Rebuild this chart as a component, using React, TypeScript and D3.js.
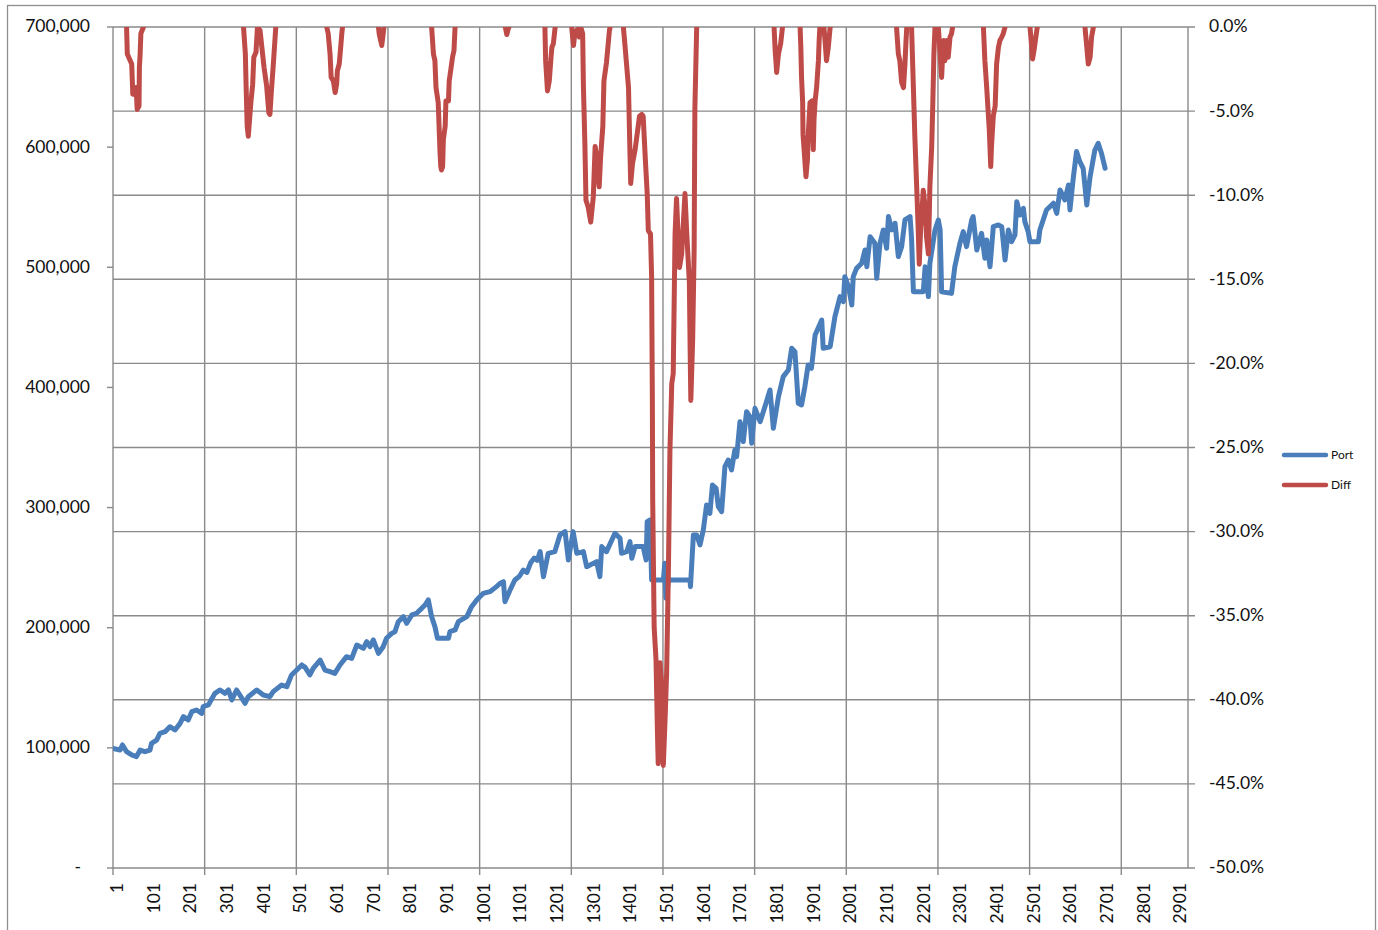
import React from 'react';
import * as d3 from 'd3';

// Port (left axis) — category index and portfolio value
const portIdx = [
  1, 20, 27, 38, 52, 65, 75, 88, 102, 106, 120, 129, 143, 156, 170, 184, 193, 206, 216, 229, 243, 247, 261, 279, 293,
  306, 316, 325, 338, 347, 361, 370, 393, 411, 429, 438, 461, 475, 488, 502, 516, 525, 538, 547, 566, 579, 593, 606,
  620, 638, 652, 666, 684, 693, 702, 711, 725, 738, 747, 761, 770, 779, 793, 802, 816, 829, 843, 852, 861, 870, 879,
  886, 916, 920, 934, 943, 966, 979, 993, 1011, 1029, 1047, 1057, 1066, 1070, 1084, 1097, 1110, 1120, 1130, 1140,
  1150, 1158, 1166, 1175, 1188, 1206, 1220, 1234, 1243, 1256, 1266, 1284, 1293, 1320, 1329, 1334, 1347, 1370, 1384,
  1388, 1402, 1411, 1416, 1425, 1447, 1455, 1458, 1466, 1470, 1502, 1506, 1509, 1516, 1575, 1576, 1584, 1593, 1602,
  1611, 1620, 1629, 1636, 1646, 1652, 1661, 1670, 1679, 1688, 1697, 1702, 1711, 1720, 1729, 1738, 1743, 1752, 1766,
  1779, 1793, 1802, 1816, 1829, 1843, 1852, 1861, 1870, 1879, 1888, 1897, 1906, 1916, 1934, 1938, 1957, 1970, 1984,
  1993, 1997, 2007, 2016, 2020, 2029, 2043, 2052, 2057, 2066, 2079, 2084, 2093, 2102, 2111, 2116, 2125, 2134, 2143,
  2152, 2161, 2175, 2179, 2184, 2211, 2216, 2225, 2229, 2243, 2252, 2257, 2261, 2288, 2297, 2311, 2320, 2329, 2343,
  2347, 2357, 2370, 2379, 2384, 2393, 2402, 2416, 2425, 2434, 2443, 2452, 2461, 2466, 2475, 2484, 2488, 2497, 2502,
  2525, 2529, 2547, 2566, 2575, 2584, 2597, 2607, 2611, 2620, 2629, 2638, 2647, 2657, 2661, 2666, 2679, 2688, 2697,
  2707,
];
const portVal = [
  99600, 98200, 102400, 96800, 94100, 92700, 98200, 96800, 98200, 103800, 106500, 112100, 113500, 117600, 114900,
  120400, 126000, 123200, 130100, 131500, 128700, 134300, 135700, 145400, 148200, 145400, 148200, 139800, 148200,
  144000, 137100, 142600, 148200, 144000, 142600, 146800, 152300, 150900, 160700, 164800, 169000, 167000, 160700,
  166200, 173100, 164800, 163400, 162000, 169000, 175900, 174500, 185600, 182800, 188400, 184200, 189800, 178700,
  184200, 191200, 195300, 196700, 205000, 209200, 203700, 210600, 212000, 216100, 218900, 223100, 209200, 200900,
  191200, 191200, 196700, 198100, 205000, 209200, 217500, 223100, 228600, 230000, 234200, 237000, 238300, 221700,
  231400, 239700, 243000, 248000, 246000, 254000, 258000, 256000, 263300, 242500, 261900, 263300, 277200, 280000,
  256400, 280000, 261900, 263300, 250800, 255000, 242500, 267500, 263300, 278600, 274400, 261900, 263300, 271600,
  257800, 267500, 267500, 256400, 288300, 289700, 239700, 239700, 253600, 224500, 239700, 239700, 234200, 277200,
  277200, 268900, 281300, 302200, 295200, 318800, 316000, 300800, 296600, 334100, 339600, 331300, 347900, 342400,
  371500, 354900, 379800, 375700, 353500, 382600, 371500, 384000, 397900, 366000, 392300, 409000, 414500, 432600,
  429800, 386800, 385400, 400600, 418700, 415900, 443700, 456100, 432600, 433900, 458900, 475600, 471400, 492200,
  483900, 468600, 492200, 499100, 503300, 514400, 500500, 525500, 520000, 490800, 520000, 531100, 515800, 542200,
  531100, 536600, 508900, 517200, 539400, 542200, 524100, 479700, 479700, 500500, 475600, 503300, 531100, 539400,
  531100, 479700, 478300, 500500, 520000, 529700, 517200, 539400, 542200, 514400, 528300, 507500, 522700, 500500,
  533800, 535200, 533800, 506100, 531100, 521300, 526900, 554600, 543500, 549100, 538000, 529700, 521300, 521300,
  531100, 547700, 553300, 544900, 564400, 556000, 568500, 547700, 574100, 596300, 587900, 582400, 551900, 563000,
  575500, 597600, 603200, 594900, 582400,
];

// Diff (right axis) — category index and drawdown in percent
const diffIdx = [
  38, 40, 52, 54, 55, 61, 64, 67, 72, 73, 75, 77, 84,
  357, 362, 364, 367, 370, 377, 382, 385, 391, 395, 402, 407, 413, 420, 426, 429, 433, 438, 442, 445,
  584, 588, 593, 596, 602, 607, 611, 613, 618, 622, 625, 627,
  725, 727, 734, 738, 740,
  870, 875, 879, 882, 888, 893, 895, 897, 900, 902, 907, 909, 916, 918, 922, 927, 931, 934,
  1071, 1075, 1079, 1081,
  1179, 1181, 1186, 1191, 1195, 1198, 1202, 1207,
  1252, 1257, 1261, 1270, 1273, 1278, 1282, 1284, 1288, 1291, 1297, 1304, 1311, 1316, 1320, 1327, 1331, 1337, 1340,
  1347, 1355, 1357,
  1393, 1397, 1407, 1411, 1413, 1418, 1425, 1431, 1437, 1443, 1447, 1453, 1458, 1461, 1467, 1470, 1472, 1473, 1477,
  1482, 1486, 1488, 1493, 1497, 1502, 1507, 1511, 1516, 1520, 1525, 1529, 1534, 1538, 1546, 1552, 1561, 1566, 1573,
  1575, 1577, 1582, 1586, 1588, 1593,
  1804, 1807, 1809, 1811, 1816, 1818, 1822, 1825, 1827,
  1875, 1877, 1879, 1882, 1883, 1886, 1891, 1895, 1897, 1902, 1907, 1911, 1913, 1916, 1920, 1925, 1927, 1929,
  1940, 1943, 1947, 1952, 1957,
  2138, 2143, 2147, 2152, 2157, 2161, 2164, 2166,
  2179, 2184, 2188, 2193, 2197, 2200, 2204, 2207, 2211, 2216, 2220, 2225, 2229, 2234, 2237, 2240, 2243,
  2252, 2257, 2261, 2264, 2267, 2270, 2275, 2279, 2284, 2288, 2291,
  2375, 2379, 2384, 2387, 2391, 2395, 2397, 2402, 2407, 2411, 2416, 2420, 2425, 2429, 2434,
  2502, 2507, 2509, 2513, 2518, 2522,
  2652, 2657, 2661, 2666, 2670, 2675,
];
const diffPct = [
  0, -1.6, -2.2, -3.4, -4.0, -4.0, -3.6, -4.9, -4.7, -2.4, -1.6, -0.4, 0,
  0, -1.6, -3.5, -5.9, -6.5, -4.5, -3.4, -1.8, -1.5, 0, -0.2, -1.2, -2.4, -3.5, -5.1, -5.2, -3.8, -2.3, -1.0, 0,
  0, -0.4, -1.6, -3.0, -3.2, -3.9, -3.4, -2.6, -2.2, -1.2, -0.4, 0,
  0, -0.4, -1.1, -0.4, 0,
  0, -1.6, -2.0, -3.6, -4.5, -7.5, -8.3, -8.5, -8.3, -6.7, -5.9, -4.4, -4.4, -3.2, -2.6, -1.8, -1.4, 0,
  0, -0.45, -0.1, 0,
  0, -2.0, -3.8, -3.2, -2.0, -1.2, -1.0, 0,
  0, -1.1, -0.3, -0.1, -0.6, -0.1, -0.4, -3.5, -6.9, -10.3, -10.7, -11.6, -10.1, -7.1, -7.7, -9.5, -7.7, -5.9, -3.2,
  -2.1, -0.2, 0,
  0, -1.0, -3.6, -7.5, -9.3, -8.1, -7.3, -6.3, -5.3, -5.2, -5.3, -7.9, -9.9, -12.1, -12.3, -14.8, -22.0, -28.1, -35.7,
  -37.6, -42.0, -43.8, -37.8, -39.0, -43.9, -41.0, -38.4, -32.1, -25.2, -21.2, -20.6, -12.3, -10.2, -14.3, -13.5, -9.9,
  -12.3, -15.2, -19.0, -22.2, -18.6, -13.3, -4.9, 0,
  0, -1.4, -2.0, -2.7, -1.6, -1.4, -1.0, -0.4, 0,
  0, -1.2, -3.0, -4.5, -6.4, -7.3, -8.9, -7.9, -6.5, -4.5, -4.4, -7.3, -5.5, -4.4, -3.6, -2.0, -0.8, 0,
  0, -0.8, -2.0, -1.2, 0,
  0, -1.6, -2.0, -3.3, -3.6, -2.2, -0.8, 0,
  0, -3.6, -6.5, -9.5, -11.9, -14.1, -11.9, -11.1, -9.7, -10.7, -12.5, -13.5, -9.5, -7.1, -4.5, -1.6, 0,
  0, -1.6, -3.0, -1.6, -0.8, -2.0, -0.8, -1.8, -0.6, -0.4, 0,
  0, -2.0, -3.6, -4.7, -6.1, -8.3, -7.1, -5.3, -4.7, -2.2, -1.2, -0.8, -0.6, -0.4, 0,
  0, -1.2, -1.9, -1.4, -0.6, 0,
  0, -1.2, -2.2, -1.8, -0.6, 0,
];

const leftTicks = [0, 100000, 200000, 300000, 400000, 500000, 600000, 700000];
const rightTicks = [0, -5, -10, -15, -20, -25, -30, -35, -40, -45, -50];
const xLabels = d3.range(1, 2902, 100);
const xGrid = d3.range(1, 2933, 250);
const seriesNames = ['Port', 'Diff'];
const seriesColors = ['#4a7ebb', '#be4b48'];

const W = 1378;
const H = 930;
const left = 113;
const right = 1188;
const top = 27;
const bottom = 868;
const FONT = 'Lato, "Open Sans", sans-serif';
const GRID = '#8a8a8a';

export default function App() {
  const x = d3.scaleLinear().domain([1, 2933]).range([left, right]);
  const yL = d3.scaleLinear().domain([0, 700000]).range([bottom, top]);
  const yR = d3.scaleLinear().domain([-50, 0]).range([bottom, top]);

  const port = portIdx.map((d, i) => [d, portVal[i]] as [number, number]);
  const portLine = d3
    .line<[number, number]>()
    .x((d) => x(d[0]))
    .y((d) => yL(d[1]));

  // split drawdown into separate dips (consecutive zeros start a new one)
  const dips: [number, number][][] = [];
  diffIdx.forEach((d, i) => {
    if (i === 0 || (diffPct[i] === 0 && diffPct[i - 1] === 0)) dips.push([]);
    dips[dips.length - 1].push([d, diffPct[i]]);
  });
  const diffLine = d3
    .line<[number, number]>()
    .x((d) => x(d[0]))
    .y((d) => yR(d[1]));

  const fmtL = (v: number) => (v === 0 ? '-' : d3.format(',')(v));
  const fmtR = (v: number) => v.toFixed(1) + '%';

  return (
    <svg width={W} height={H} style={{ position: 'absolute', left: 0, top: 0, background: '#fff' }}>
      <defs>
        <clipPath id="plot">
          <rect x={left} y={top} width={right - left} height={bottom - top} />
        </clipPath>
      </defs>
      <rect x={7.5} y={5.5} width={1368} height={940} fill="#fff" stroke="#8f8f8f" strokeWidth={1.3} />

      {/* gridlines */}
      {rightTicks.map((t) => (
        <line key={'h' + t} x1={left} x2={right + 7} y1={yR(t)} y2={yR(t)} stroke={GRID} strokeWidth={1.4} />
      ))}
      {xGrid.map((c) => (
        <line key={'v' + c} x1={x(c)} x2={x(c)} y1={top} y2={bottom + 7} stroke={GRID} strokeWidth={1.4} />
      ))}
      <line x1={right} x2={right} y1={top} y2={bottom} stroke={GRID} strokeWidth={1.4} />

      {/* left axis */}
      {leftTicks.map((t) => (
        <g key={'l' + t}>
          <line x1={left - 6} x2={left} y1={yL(t)} y2={yL(t)} stroke={GRID} strokeWidth={1.4} />
          <text
            x={t === 0 ? 81 : 90}
            y={yL(t) + 1}
            textAnchor="end"
            dominantBaseline="middle"
            fontFamily={FONT}
            fontSize={17.5}
            fill="#111"
          >
            {fmtL(t)}
          </text>
        </g>
      ))}

      {/* right axis */}
      {rightTicks.map((t) => (
        <text
          key={'r' + t}
          x={1209}
          y={yR(t) + 1}
          dominantBaseline="middle"
          fontFamily={FONT}
          fontSize={17.5}
          fill="#111"
        >
          {fmtR(t)}
        </text>
      ))}

      {/* category labels */}
      {xLabels.map((c) => (
        <text
          key={'x' + c}
          transform={`translate(${x(c) + 4},${883}) rotate(-90)`}
          textAnchor="end"
          dy="0.35em"
          fontFamily={FONT}
          fontSize={17.5}
          fill="#111"
        >
          {c}
        </text>
      ))}

      {/* series */}
      <path
        d={portLine(port) || ''}
        fill="none"
        stroke={seriesColors[0]}
        strokeWidth={5}
        strokeLinejoin="round"
        strokeLinecap="round"
        clipPath="url(#plot)"
      />
      <g clipPath="url(#plot)">
        {dips.map((dp, i) => (
          <path
            key={'d' + i}
            d={diffLine(dp) || ''}
            fill="none"
            stroke={seriesColors[1]}
            strokeWidth={5}
            strokeLinejoin="round"
            strokeLinecap="round"
          />
        ))}
      </g>

      {/* legend */}
      {seriesNames.map((s, i) => (
        <g key={s} transform={`translate(1284,${455 + i * 30})`}>
          <line x1={0} x2={42} y1={0} y2={0} stroke={seriesColors[i]} strokeWidth={4.5} strokeLinecap="round" />
          <text x={47} y={1} dominantBaseline="middle" fontFamily={FONT} fontSize={12} fill="#111">
            {s}
          </text>
        </g>
      ))}
    </svg>
  );
}
